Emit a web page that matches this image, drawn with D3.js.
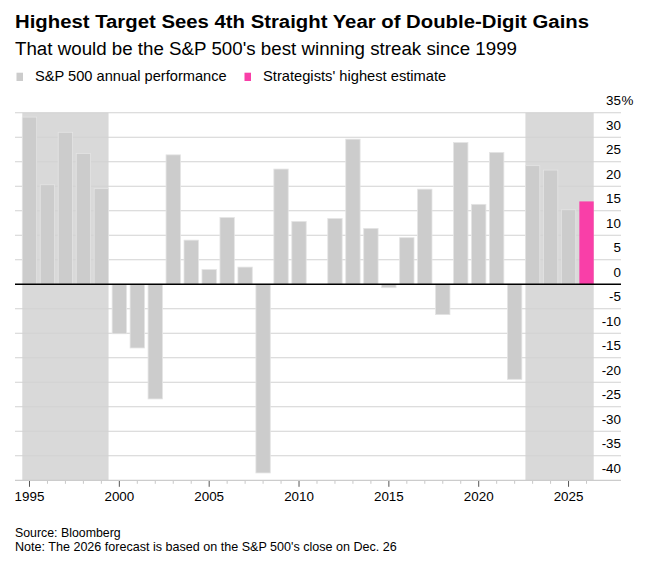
<!DOCTYPE html>
<html>
<head>
<meta charset="utf-8">
<script src="https://cdn.jsdelivr.net/npm/d3@7"></script>
<style>
  body { margin: 0; background: #fff; }
  text { font-family: "Liberation Sans", Arial, sans-serif; fill: #000; }
</style>
</head>
<body>
<div id="root"></div>
<script>
const width = 658
const height = 565

// data
const years = d3.range(1995, 2027)
const performance = [34.1, 20.3, 31.0, 26.7, 19.5, -10.1, -13.0, -23.4, 26.4, 9.0,
  3.0, 13.6, 3.5, -38.5, 23.5, 12.8, 0.0, 13.4, 29.6, 11.4,
  -0.7, 9.5, 19.4, -6.2, 28.9, 16.3, 26.9, -19.4, 24.2, 23.3, 15.2]
const estimate = [{ year: 2026, value: 16.9 }]
const yTicks = [35, 30, 25, 20, 15, 10, 5, 0, -5, -10, -15, -20, -25, -30, -35, -40]
const xLabels = [1995, 2000, 2005, 2010, 2015, 2020, 2025]
const shaded = [[1995, 1999], [2023, 2026]]
const legend = [
  { label: 'S&P 500 annual performance', color: '#cccccc' },
  { label: "Strategists' highest estimate", color: '#f93fa8' }
]

const svg = d3.select('#root').append('svg')
  .attr('width', width)
  .attr('height', height)

const x = d3.scaleBand()
  .domain(years)
  .range([20.5, 595.5])
  .paddingInner(0.2)
  .paddingOuter(0.1)

const y = d3.scaleLinear()
  .domain([-40, 35])
  .range([480.3, 112.7])

const gridLeft = 15
const gridRight = 621

// the original typeface runs a little wider than Liberation Sans
function fit (sel, w) {
  sel.attr('textLength', w).attr('lengthAdjust', 'spacingAndGlyphs')
  return sel
}

// titles
fit(svg.append('text')
  .attr('x', 15).attr('y', 28.3)
  .style('font-size', '18.8px').style('font-weight', 'bold')
  .text('Highest Target Sees 4th Straight Year of Double-Digit Gains'), 574)

fit(svg.append('text')
  .attr('x', 15).attr('y', 55.3)
  .style('font-size', '17.6px')
  .text("That would be the S&P 500's best winning streak since 1999"), 502)

// legend
const leg = svg.append('g')
const legX = [16.5, 244.5]
const legW = [191.7, 183.3]
legend.forEach((d, i) => {
  leg.append('rect')
    .attr('x', legX[i]).attr('y', 72.7)
    .attr('width', 6.5).attr('height', 8.3)
    .attr('fill', d.color)
  fit(leg.append('text')
    .attr('x', legX[i] + 18.5).attr('y', 81)
    .style('font-size', '14.3px')
    .text(d.label), legW[i])
})

// shaded periods
svg.append('g').selectAll('rect')
  .data(shaded)
  .join('rect')
  .attr('x', d => x(d[0]))
  .attr('width', d => x(d[1]) + x.bandwidth() - x(d[0]))
  .attr('y', y(35))
  .attr('height', y(-40) - y(35))
  .attr('fill', '#d9d9d9')

// gridlines
svg.append('g').selectAll('line')
  .data(yTicks.filter(d => d !== 0 && d !== -40))
  .join('line')
  .attr('x1', gridLeft).attr('x2', gridRight)
  .attr('y1', d => y(d)).attr('y2', d => y(d))
  .attr('stroke', '#d2d2d2')
  .attr('stroke-width', 1.1)

// y labels (right aligned, sitting above their line)
const yl = svg.append('g')
yl.selectAll('text')
  .data(yTicks)
  .join('text')
  .attr('x', gridRight)
  .attr('y', d => y(d) - 7.7)
  .attr('text-anchor', 'end')
  .style('font-size', '13.4px')
  .text(d => d)
yl.append('text')
  .attr('x', gridRight + 0.5)
  .attr('y', y(35) - 7.7)
  .style('font-size', '13.4px')
  .text('%')

// bars
const rows = years.slice(0, performance.length).map((yr, i) => ({ year: yr, value: performance[i] }))
svg.append('g').selectAll('rect')
  .data(rows.filter(d => d.value !== 0))
  .join('rect')
  .attr('x', d => x(d.year))
  .attr('width', x.bandwidth())
  .attr('y', d => y(Math.max(0, d.value)))
  .attr('height', d => Math.abs(y(d.value) - y(0)))
  .attr('fill', '#cccccc')
  .attr('stroke', '#e4e4e4')
  .attr('stroke-width', 0.8)

svg.append('g').selectAll('rect')
  .data(estimate)
  .join('rect')
  .attr('x', d => x(d.year))
  .attr('width', x.bandwidth())
  .attr('y', d => y(d.value))
  .attr('height', d => y(0) - y(d.value))
  .attr('fill', '#f93fa8')

// zero line
svg.append('line')
  .attr('x1', gridLeft).attr('x2', gridRight)
  .attr('y1', y(0)).attr('y2', y(0))
  .attr('stroke', '#000')
  .attr('stroke-width', 1.4)

// x axis
const xAxis = svg.append('g')
  .attr('transform', `translate(0,${y(-40)})`)
  .call(d3.axisBottom(x)
    .tickValues(years)
    .tickSize(3.5)
    .tickPadding(8)
    .tickFormat(d => xLabels.includes(d) ? d : ''))

xAxis.select('.domain').remove()
xAxis.append('line')
  .attr('x1', gridLeft).attr('x2', gridRight)
  .attr('stroke', '#cccccc')
  .attr('stroke-width', 1.2)
xAxis.selectAll('.tick line')
  .attr('stroke', d => xLabels.includes(d) ? '#555' : '#c8c8c8')
  .attr('y2', d => xLabels.includes(d) ? 6.5 : 3.5)
xAxis.selectAll('.tick text')
  .attr('dy', null)
  .attr('y', 21)
  .style('font-size', '13.4px')
  .style('font-family', '"Liberation Sans", Arial, sans-serif')
  .attr('fill', '#000')

// notes
fit(svg.append('text')
  .attr('x', 15).attr('y', 536.5)
  .style('font-size', '12.2px')
  .text('Source: Bloomberg'), 105.7)
fit(svg.append('text')
  .attr('x', 15).attr('y', 551)
  .style('font-size', '12.2px')
  .text("Note: The 2026 forecast is based on the S&P 500's close on Dec. 26"), 381.7)
</script>
</body>
</html>
